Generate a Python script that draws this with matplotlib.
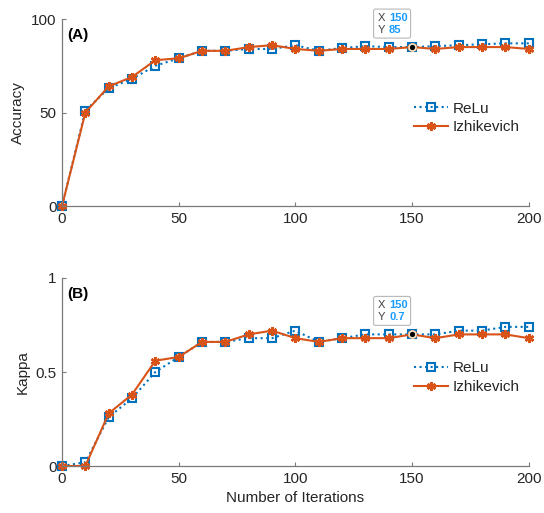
import matplotlib.pyplot as plt
from matplotlib.patches import FancyBboxPatch
from matplotlib.transforms import ScaledTranslation

plt.rcParams['font.family'] = ['Liberation Sans', 'DejaVu Sans']

# iterations
iterations = [0, 10, 20, 30, 40, 50, 60, 70, 80, 90, 100,
              110, 120, 130, 140, 150, 160, 170, 180, 190, 200]

# (A) accuracy
acc_relu = [0, 51, 63, 68, 75, 79, 83, 83, 84, 84, 86,
            83, 84.5, 85.5, 85, 85, 85.5, 86, 86.5, 87, 87]
acc_izh = [0, 50, 64, 69, 78, 79, 83, 83, 85, 86, 84,
           83, 84, 84, 84, 85, 84, 85, 85, 85, 84]

# (B) kappa
kap_relu = [0, 0.02, 0.26, 0.36, 0.50, 0.58, 0.66, 0.66, 0.68, 0.68, 0.72,
            0.66, 0.68, 0.70, 0.70, 0.70, 0.70, 0.72, 0.72, 0.74, 0.74]
kap_izh = [0, 0, 0.28, 0.38, 0.56, 0.58, 0.66, 0.66, 0.70, 0.72, 0.68,
           0.66, 0.68, 0.68, 0.68, 0.70, 0.68, 0.70, 0.70, 0.70, 0.68]

blue = '#0072BD'
orange = '#D95319'
axcol = '#7a7a7a'
txtcol = '#262626'
tipblue = '#1a9bff'

fig = plt.figure(figsize=(5.44, 5.13), dpi=100)
ax1 = fig.add_axes([0.114, 0.5984, 0.858, 0.3645])
ax2 = fig.add_axes([0.114, 0.0916, 0.858, 0.3665])


def draw_panel(ax, relu, izh, ylim, yticks, ylabel, tag, tip_x, tip_y, tip_lbl):
    ax.plot(iterations, relu, ':', color=blue, lw=1.5, clip_on=False,
            marker='s', ms=5.5, mfc='none', mec=blue, mew=1.5, label='ReLu')
    ax.plot(iterations, izh, '-', color=orange, lw=1.5, clip_on=False,
            marker=(6, 2, 0), ms=6.5, mec=orange, mew=1.8, label='Izhikevich')
    ax.set_xlim(0, 200)
    ax.set_ylim(*ylim)
    ax.set_xticks([0, 50, 100, 150, 200])
    ax.set_yticks(yticks)
    ax.set_ylabel(ylabel, fontsize=11, color=txtcol)
    for s in ['top', 'right']:
        ax.spines[s].set_visible(False)
    for s in ['left', 'bottom']:
        ax.spines[s].set_color(axcol)
        ax.spines[s].set_linewidth(0.9)
    ax.tick_params(direction='in', length=3, width=0.8, color=axcol,
                   labelsize=11, labelcolor=txtcol, pad=4)
    ax.text(0.012, 0.95, tag, transform=ax.transAxes, fontsize=11,
            fontweight='bold', va='top', ha='left')
    leg = ax.legend(loc='center right', bbox_to_anchor=(1.01, 0.47),
                    frameon=False, fontsize=11, handlelength=2.2,
                    handletextpad=0.3, labelspacing=0.3)
    for t in leg.get_texts():
        t.set_color(txtcol)

    # data tip
    ax.plot([tip_x], [tip_y], 'o', ms=5, mfc='black', mec='#f5e6c8',
            mew=1.2, zorder=5)
    tr = fig.dpi_scale_trans + ScaledTranslation(tip_x, tip_y, ax.transData)
    box = FancyBboxPatch((-0.385, 0.09), 0.37, 0.29,
                         boxstyle='round,pad=0,rounding_size=0.02',
                         transform=tr, fc='white', ec='#b8b8b8', lw=0.8,
                         clip_on=False, zorder=6)
    ax.add_patch(box)
    ax.text(-0.34, 0.295, 'X', transform=tr, fontsize=8, color='#404040',
            va='center', ha='left', zorder=7, clip_on=False)
    ax.text(-0.23, 0.295, str(tip_x), transform=tr, fontsize=8,
            color=tipblue, fontweight='bold', va='center', ha='left',
            zorder=7, clip_on=False)
    ax.text(-0.34, 0.17, 'Y', transform=tr, fontsize=8, color='#404040',
            va='center', ha='left', zorder=7, clip_on=False)
    ax.text(-0.23, 0.17, tip_lbl, transform=tr, fontsize=8,
            color=tipblue, fontweight='bold', va='center', ha='left',
            zorder=7, clip_on=False)


draw_panel(ax1, acc_relu, acc_izh, (0, 100), [0, 50, 100], 'Accuracy', '(A)',
           150, 85, '85')
draw_panel(ax2, kap_relu, kap_izh, (0, 1), [0, 0.5, 1], 'Kappa', '(B)',
           150, 0.7, '0.7')
ax2.set_yticklabels(['0', '0.5', '1'])
ax2.set_xlabel('Number of Iterations', fontsize=11, color=txtcol)

fig.savefig('out.png', dpi=100)
